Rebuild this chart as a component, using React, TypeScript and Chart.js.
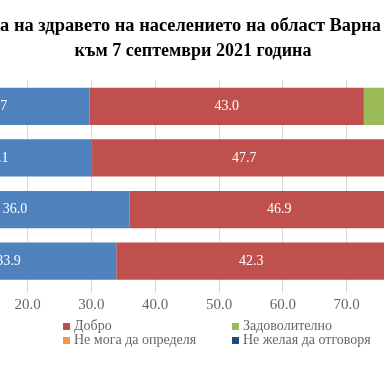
import React, { useEffect, useRef } from "react";
import { Chart, registerables } from "chart.js";
Chart.register(...registerables);

const titleLine1 = "Оценка на здравето на населението на област Варна по пол";
const titleLine2 = "към 7 септември 2021 година";
const categories = ["България", "Област Варна", "Мъже", "Жени"];
const seriesNames = [
  "Много добро",
  "Добро",
  "Задоволително",
  "Лошо",
  "Много лошо",
  "Не мога да определя",
  "Не желая да отговоря",
];
const seriesColors = ["#4F81BD", "#C0504D", "#9BBB59", "#8064A2", "#4BACC6", "#F79646", "#1F497D"];
const veryGood = [29.7, 30.1, 36.0, 33.9];
const good = [43.0, 47.7, 46.9, 42.3];
const satisfactory = [18.6, 15.0, 11.8, 16.2];
const bad = [5.0, 3.8, 2.9, 4.6];
const veryBad = [1.4, 1.0, 0.8, 1.2];
const cannotSay = [1.2, 1.3, 0.9, 1.0];
const noAnswer = [1.1, 1.1, 0.7, 0.8];
const seriesValues = [veryGood, good, satisfactory, bad, veryBad, cannotSay, noAnswer];
const xMin = 0;
const xMax = 100;
const xStep = 10;

const OFFSET_X = -220;
const CW = 820;
const CH = 384;

const labelPlugin = {
  id: "segLabels",
  afterDatasetsDraw(chart: any) {
    const ctx = chart.ctx;
    ctx.save();
    ctx.font = "14px 'Liberation Serif'";
    ctx.fillStyle = "#ffffff";
    ctx.textAlign = "center";
    ctx.textBaseline = "middle";
    chart.data.datasets.forEach((ds: any, i: number) => {
      const meta = chart.getDatasetMeta(i);
      meta.data.forEach((bar: any, j: number) => {
        const v = ds.data[j];
        if (v < 3) return;
        const p = bar.getProps(["x", "y", "base"], true);
        ctx.fillText(v.toFixed(1), (p.x + p.base) / 2, p.y);
      });
    });
    ctx.restore();
  },
};

export default function App() {
  const ref = useRef<HTMLCanvasElement>(null);
  useEffect(() => {
    const chart = new Chart(ref.current!, {
      type: "bar",
      data: {
        labels: categories,
        datasets: seriesNames.map((n, i) => ({
          label: n,
          data: seriesValues[i],
          backgroundColor: seriesColors[i],
          borderWidth: 0,
          barPercentage: 0.72,
          categoryPercentage: 1,
        })),
      },
      options: {
        indexAxis: "y",
        responsive: false,
        animation: false,
        layout: { padding: { left: 68, right: 62, top: 0, bottom: 67 } },
        plugins: {
          legend: { display: false },
          tooltip: { enabled: false },
          title: {
            display: true,
            text: titleLine1,
            color: "#000",
            font: { family: "'Liberation Serif'", size: 18.4, weight: "bold", lineHeight: 1.33 },
            padding: { top: 14, bottom: 0 },
          },
          subtitle: {
            display: true,
            text: titleLine2,
            color: "#000",
            font: { family: "'Liberation Serif'", size: 18, weight: "bold", lineHeight: 1.39 },
            padding: { top: 0, bottom: 17 },
          },
        },
        scales: {
          x: {
            stacked: true,
            min: xMin,
            max: xMax,
            ticks: {
              stepSize: xStep,
              color: "#666",
              font: { family: "'Liberation Serif'", size: 15 },
              padding: 3,
              callback: (v: any) => Number(v).toFixed(1),
            },
            grid: { color: "#d9d9d9", tickLength: 6 },
            border: { display: false },
          },
          y: {
            stacked: true,
            ticks: { color: "#666", font: { family: "'Liberation Serif'", size: 15 } },
            grid: { display: false },
            border: { color: "#d9d9d9" },
            afterFit: (s: any) => {
              s.width = 52;
            },
          },
        },
      },
      plugins: [labelPlugin],
    } as any);
    return () => chart.destroy();
  }, []);

  const rows = [seriesNames.slice(0, 4), seriesNames.slice(4)];
  return (
    <div style={{ position: "fixed", left: 0, top: 0, width: 384, height: 384, overflow: "hidden", background: "#fff" }}>
      <div style={{ position: "absolute", left: OFFSET_X, top: 0, width: CW, height: CH }}>
        <canvas ref={ref} width={CW} height={CH} style={{ display: "block" }} />
        {rows.map((r, ri) =>
          r.map((n, ci) => {
            const idx = seriesNames.indexOf(n);
            return (
              <div
                key={n}
                style={{
                  position: "absolute",
                  left: 114 + ci * 169,
                  top: 318 + ri * 14,
                  height: 16,
                  display: "flex",
                  alignItems: "center",
                  whiteSpace: "nowrap",
                  font: "14px 'Liberation Serif'",
                  color: "#666",
                }}
              >
                <span style={{ width: 7, height: 7, background: seriesColors[idx], marginRight: 4, display: "inline-block" }} />
                {n}
              </div>
            );
          })
        )}
      </div>
    </div>
  );
}
